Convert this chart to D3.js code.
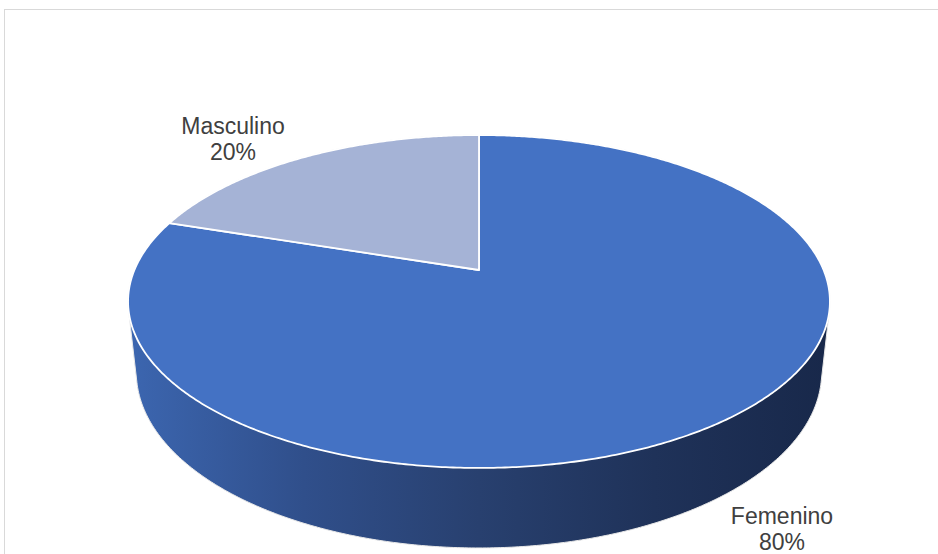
<!DOCTYPE html>
<html><head><meta charset="utf-8">
<script src="https://cdn.jsdelivr.net/npm/d3@7"></script>
<style>html,body{margin:0;padding:0;background:#fff;}svg{display:block;}</style>
</head><body>
<svg id="c" width="938" height="554"></svg>
<script>
const categories = ["Femenino", "Masculino"];
const values = [80, 20];
const percentLabels = ["80%", "20%"];
const colors = ["#4472C4", "#A5B3D6"];

const svg = d3.select("#c");
// chart frame
svg.append("rect").attr("x", 4.5).attr("y", 9.5).attr("width", 960).attr("height", 600)
  .attr("fill", "#fff").attr("stroke", "#d9d9d9").attr("stroke-width", 1);

// perspective projection of a horizontal disc
const cx = 479, cy = 270, f = 1612;
const sa = 0.4658, ca = Math.sqrt(1 - sa * sa), dist = 4.678, h = 0.234;
function proj(theta, y) {
  const x = Math.sin(theta), z = Math.cos(theta);
  const depth = dist + z * ca - y * sa;
  const up = y * ca + z * sa;
  return [cx + f * x / depth, cy - f * up / depth];
}

const pie = d3.pie().sort(null).value(d => d)(values);
const angle = d3.scaleLinear().domain([0, 2 * Math.PI]).range([0, 2 * Math.PI]);

// side (hull of top & bottom rims) with gradient
const defs = svg.append("defs");
const grad = defs.append("linearGradient").attr("id", "side").attr("gradientUnits", "userSpaceOnUse")
  .attr("x1", 128).attr("x2", 830).attr("y1", 0).attr("y2", 0);
[[0, "#3c66b0"], [0.25, "#304f8b"], [0.5, "#28406f"], [0.75, "#1f3259"], [1, "#18284a"]]
  .forEach(([o, c]) => grad.append("stop").attr("offset", o).attr("stop-color", c));

const rimPts = [];
for (let i = 0; i < 720; i++) {
  const t = i / 720 * 2 * Math.PI;
  rimPts.push(proj(t, 0));
  rimPts.push(proj(t, -h));
}
const hull = d3.polygonHull(rimPts);
svg.append("path").attr("d", "M" + hull.map(p => p.join(",")).join("L") + "Z")
  .attr("fill", "url(#side)").attr("stroke", "#e8e8e8").attr("stroke-width", 1);

// top slices
const c0 = [cx, cy];
pie.forEach((s, i) => {
  const a0 = angle(s.startAngle), a1 = angle(s.endAngle);
  const n = Math.max(4, Math.ceil((a1 - a0) / (Math.PI / 360)));
  const pts = [c0];
  for (let k = 0; k <= n; k++) pts.push(proj(a0 + (a1 - a0) * k / n, 0));
  svg.append("path").attr("d", "M" + pts.map(p => p.join(",")).join("L") + "Z")
    .attr("fill", colors[i]).attr("stroke", "#fff").attr("stroke-width", 1.8)
    .attr("stroke-linejoin", "round");
});

// labels
const labelPos = [[782, 524], [233, 134]];
pie.forEach((s, i) => {
  const t = svg.append("text").attr("text-anchor", "middle")
    .attr("font-family", "Liberation Sans, Arial, sans-serif").attr("font-size", 23)
    .attr("fill", "#404040");
  t.append("tspan").attr("x", labelPos[i][0]).attr("y", labelPos[i][1]).text(categories[i]);
  t.append("tspan").attr("x", labelPos[i][0]).attr("y", labelPos[i][1] + 26).text(percentLabels[i]);
});
</script>
</body></html>
